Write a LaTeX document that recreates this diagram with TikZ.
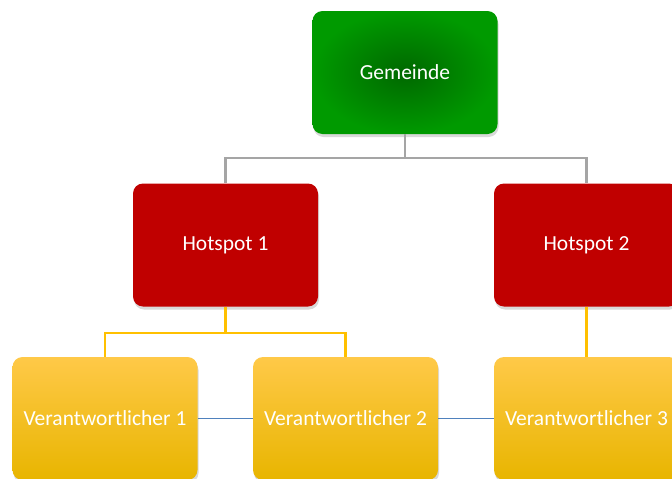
\documentclass[tikz,border=0pt]{standalone}
\usepackage{fontspec}
\setmainfont{Carlito}
\usetikzlibrary{shadows}
\definecolor{gemgreen}{HTML}{009A00}
\definecolor{gemdark}{HTML}{006800}
\definecolor{hotred}{HTML}{C00000}
\definecolor{ytop}{HTML}{FFC948}
\definecolor{ymid}{HTML}{FFC300}
\definecolor{ybot}{HTML}{E8B500}
\definecolor{linegray}{HTML}{A5A5A5}
\definecolor{lineyellow}{HTML}{FFC000}
\definecolor{lineblue}{HTML}{4F81BD}
\tikzset{
  box/.style={rounded corners=10pt, minimum width=185pt, minimum height=123pt,
    inner sep=0pt, text=white, font=\fontsize{21.5}{24}\selectfont,
    drop shadow={opacity=0.3, shadow xshift=1pt, shadow yshift=-3pt}},
  gembox/.style={box, inner color=gemdark, outer color=gemgreen},
  hotbox/.style={box, fill=hotred},
  vbox/.style={box, top color=ytop, middle color=ymid, bottom color=ybot},
  graylink/.style={draw=linegray, line width=2.2pt},
  yellink/.style={draw=lineyellow, line width=2.2pt},
  bluelink/.style={draw=lineblue, line width=1pt}
}
\begin{document}
\begin{tikzpicture}[x=1pt,y=-1pt]
\useasboundingbox (0,0) rectangle (672,479);
\clip (0,0) rectangle (672,479);
\node[gembox] (gem) at (405,72.5) {Gemeinde};
\node[hotbox] (h1) at (225.5,245) {Hotspot 1};
\node[hotbox] (h2) at (586.5,245) {Hotspot 2};
\node[vbox] (v1) at (105,418.5) {Verantwortlicher 1};
\node[vbox] (v2) at (345.5,418.5) {Verantwortlicher 2};
\node[vbox] (v3) at (586.5,418.5) {Verantwortlicher 3};
\draw[graylink] (gem.south) -- ++(0,24) -| (h1.north);
\draw[graylink] (gem.south) -- ++(0,24) -| (h2.north);
\draw[yellink] (h1.south) -- ++(0,26) -| (v1.north);
\draw[yellink] (h1.south) -- ++(0,26) -| (v2.north);
\draw[yellink] (h2.south) -- (v3.north);
\draw[bluelink] (v1.east) -- (v2.west);
\draw[bluelink] (v2.east) -- (v3.west);
\end{tikzpicture}
\end{document}
